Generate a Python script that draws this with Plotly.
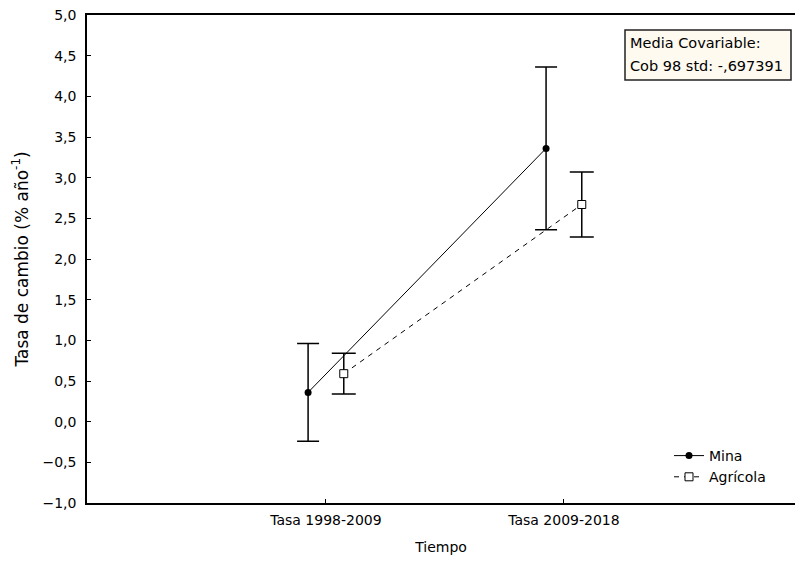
import plotly.graph_objects as go

# Categories on the time axis
categorias = ["Tasa 1998-2009", "Tasa 2009-2018"]

# Adjusted means and error-bar half widths (% año^-1)
mina_media = [0.36, 3.36]
mina_error = [0.60, 1.00]
agricola_media = [0.59, 2.67]
agricola_error = [0.25, 0.40]

desplazamiento = 0.075  # horizontal separation of the two groups

FONT = "DejaVu Sans"
W, H = 795, 566
ML, MR, MT, MB = 87, 0, 15, 63

pos = list(range(len(categorias)))
x_mina = [p - desplazamiento for p in pos]
x_agri = [p + desplazamiento for p in pos]

fig = go.Figure()

fig.add_trace(go.Scatter(
    x=x_mina, y=mina_media, name="Mina", mode="lines+markers",
    line=dict(color="black", width=1),
    marker=dict(symbol="circle", size=7, color="black"),
    error_y=dict(type="data", array=mina_error, visible=True,
                 color="black", thickness=1.5, width=11),
))

fig.add_trace(go.Scatter(
    x=x_agri, y=agricola_media, name="Agrícola", mode="lines+markers",
    line=dict(color="black", width=1, dash="5px,5px"),
    marker=dict(symbol="square", size=8, color="white",
                line=dict(color="black", width=1)),
    error_y=dict(type="data", array=agricola_error, visible=True,
                 color="black", thickness=1.5, width=12),
))

pw = W - ML - MR
ph = H - MT - MB

def px_x(v):
    return (v - ML) / pw

def px_y(v):
    return (H - MB - v) / ph

# Covariate note box
fig.add_shape(type="rect", xref="paper", yref="paper",
              x0=px_x(625), x1=px_x(791), y0=px_y(80), y1=px_y(30),
              line=dict(color="#222222", width=1.5), fillcolor="#fffaf0",
              layer="above")
fig.add_annotation(text="Media Covariable:", xref="paper", yref="paper",
                   x=px_x(628), y=px_y(43), xanchor="left", yanchor="middle",
                   showarrow=False, font=dict(family=FONT, size=14.5, color="black"))
fig.add_annotation(text="Cob 98 std: -,697391", xref="paper", yref="paper",
                   x=px_x(628), y=px_y(66), xanchor="left", yanchor="middle",
                   showarrow=False, font=dict(family=FONT, size=14.5, color="black"))

fig.update_layout(
    width=W, height=H,
    margin=dict(l=ML, r=MR, t=MT, b=MB),
    paper_bgcolor="white", plot_bgcolor="white",
    separators=", ",
    font=dict(family=FONT, size=14, color="black"),
    showlegend=True,
    legend=dict(x=px_x(669), y=px_y(440), xanchor="left", yanchor="top",
                bgcolor="rgba(0,0,0,0)", font=dict(size=14),
                itemwidth=30, tracegroupgap=0),
)

fig.update_xaxes(
    range=[-1.004, 1.971],
    tickmode="array", tickvals=pos, ticktext=categorias,
    ticks="inside", ticklen=4, tickcolor="black",
    showline=True, linecolor="black", linewidth=1.5, mirror=True,
    showgrid=False, zeroline=False, ticklabelstandoff=3,
    tickfont=dict(size=14),
    title=dict(text="Tiempo", standoff=16, font=dict(size=14)),
)

fig.update_yaxes(
    range=[-1, 5], dtick=0.5, tick0=0, tickformat=".1f",
    ticks="inside", ticklen=4, tickcolor="black",
    showline=True, linecolor="black", linewidth=1.5,
    showgrid=False, zeroline=False, tickfont=dict(size=14),
    ticklabelstandoff=6,
    title=dict(text="Tasa de cambio (% año<sup>-1</sup>)", standoff=10,
               font=dict(size=17)),
)

fig.write_html("out.html")
